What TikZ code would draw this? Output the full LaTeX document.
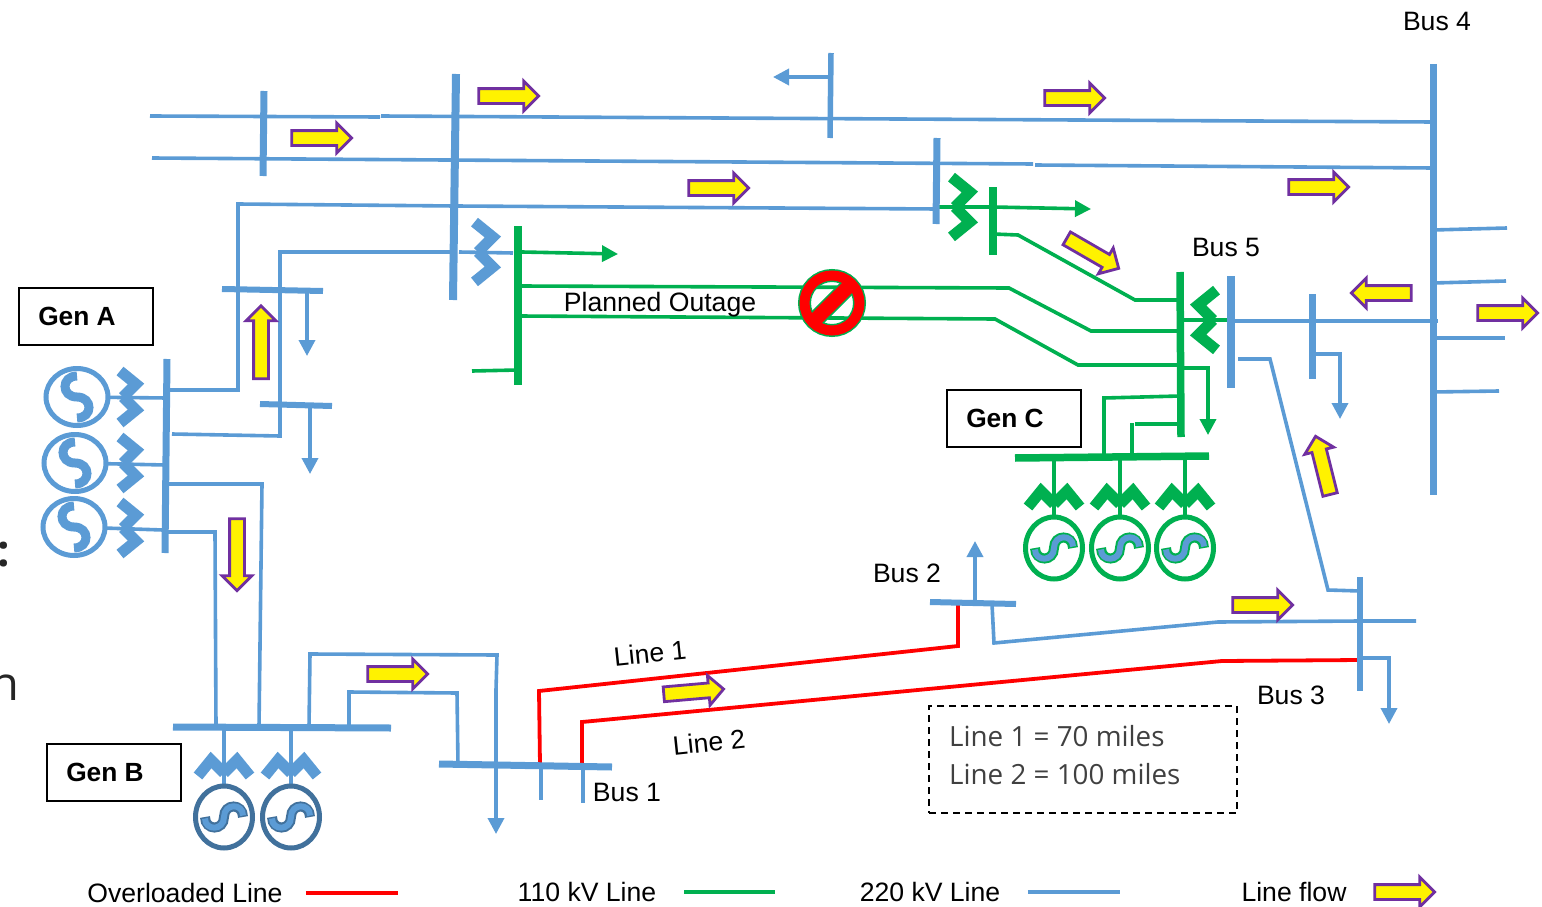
\documentclass[tikz,border=0pt]{standalone}
\usepackage{fontspec}
\setmainfont{Liberation Sans}
\newfontfamily\notefont{Open Sans}
\usepackage{xcolor}
\usetikzlibrary{arrows.meta, shapes.arrows, positioning}
\definecolor{lineblue}{HTML}{5B9BD5}
\definecolor{linegreen}{HTML}{00B050}
\definecolor{ringblue}{HTML}{41719C}
\definecolor{flowpurple}{HTML}{7030A0}
\tikzset{
  xfmr/.pic={
    \draw[pic actions, line width=11pt] (-10,-26) -- (6,-13) -- (-7,0);
    \draw[pic actions, line width=11pt] (-7,0) -- (6,13) -- (-10,26);
  },
  genS/.pic={
    \draw[pic actions, fill=white, line width=5pt] (0,0) ellipse [x radius=28.5, y radius=31];
    \draw[pic actions, line width=9pt] (-21,0) .. controls (-21,16) and (0,16) .. (0,0)
      .. controls (0,-16) and (21,-16) .. (21,0);
  },
  genW/.pic={
    \draw[pic actions, fill=white, line width=5pt] (0,0) ellipse [x radius=28.5, y radius=31];
    \draw[pic actions, line width=10pt] (-19,0) .. controls (-19,14) and (0,14) .. (0,0)
      .. controls (0,-14) and (19,-14) .. (19,0);
    \draw[lineblue, line width=6pt, shorten <=1.5pt, shorten >=1.5pt] (-19,0) .. controls (-19,14) and (0,14) .. (0,0)
      .. controls (0,-14) and (19,-14) .. (19,0);
  }
}

\begin{document}
\begin{tikzpicture}[x=1pt, y=-1pt, >={Triangle[length=16pt, width=16pt]},
    blueline/.style={lineblue, line width=3.6pt},
    greenline/.style={linegreen, line width=3.6pt},
    redline/.style={red, line width=3.8pt},
    busblue/.style={lineblue, line width=7pt},
    busgreen/.style={linegreen, line width=7.5pt},
    flowarrow/.style={single arrow, draw=flowpurple, fill=yellow, line width=2.8pt, inner sep=6pt,
      single arrow head extend=7.5pt, minimum width=28pt, minimum height=60pt},
    genbox/.style={draw, line width=2pt, minimum width=134pt, minimum height=57pt, inner sep=0pt,
      font=\fontsize{26.3}{30}\selectfont\bfseries},
    label/.style={inner sep=0pt, font=\fontsize{26.6}{30}\selectfont}]
  \useasboundingbox (0,0) rectangle (1542,907);
  \clip (0,0) rectangle (1542,907);

  % 1. Connection points on the buses
  \foreach \tapname/\tappos in {
      genA1/{77,397}, genA2/{75,463}, genA3/{74,527},
      genB1/{224,817}, genB2/{291,817},
      genC1/{1054,548}, genC2/{1120,548}, genC3/{1185,548},
      tapAone/{168,390}, tapAtwo/{172,434}, tapAthree/{168,484}, tapAfour/{168,532},
      tapAg1/{167,398}, tapAg2/{165,465}, tapAg3/{163,530},
      tapBone/{216,727}, tapBtwo/{259,727}, tapBthree/{309,727}, tapBfour/{349,727},
      tapBg1/{224,727}, tapBg2/{291,727},
      tapCg1/{1054,458}, tapCg2/{1120,458}, tapCg3/{1185,458},
      tapCone/{1104,458}, tapCtwo/{1132,458},
      tapDone/{1180,396}, tapDtwo/{1135,424}, tapDthree/{1180,424},
      tapEone/{1180,300}, tapEtwo/{1180,331}, tapEthree/{1180,365}, tapEfour/{1181,368},
      tapEfive/{1181,320}, tapEsix/{1230,320},
      tapFone/{993,234}, tapFtwo/{993,207}, tapFthree/{937,207},
      tapGone/{520,286}, tapGtwo/{520,316}, tapGthree/{522,252}, tapGfour/{518,370},
      tapGfive/{513,253}, tapGsix/{459,252},
      busTwoA/{452,252}, busTwoB/{455,206}, busBlue/{938,209},
      busFourA/{1433,122}, busFourB/{1433,168},
      busFourC/{1433,230}, busFourD/{1433,283}, busFourE/{1438,321}, busFourF/{1433,338}, busFourG/{1433,392},
      busFiveA/{1231,321}, busFiveB/{1238,359},
      busSmallA/{1312,354}, busThreeA/{1360,591}, busThreeB/{1360,621}, busThreeC/{1360,658}, busThreeD/{1360,660},
      busOverA/{958,604}, busOverB/{992,604}, busOverC/{975,602},
      busOneA/{540,765}, busOneB/{582,765}, busOneC/{541,768}, busOneD/{583,768}, busOneE/{458,765},
      loadOne/{307,291}, loadTwo/{310,406}, loadTop/{830,77}} {
    \coordinate (\tapname) at (\tappos);
  }

  % 2. 220 kV lines
  \draw[blueline] (150,116) -- (380,117);
  \draw[blueline] (381,116) -- (720,118) -- (busFourA);
  \draw[blueline] (152,158) -- (1033,164);
  \draw[blueline] (1035,165) -- (busFourB);
  \draw[blueline] (tapAone) -- (238,390) -- (238,204) -- (busTwoB) -- (busBlue);
  \draw[blueline] (tapAtwo) -- (280,436) -- (280,252) -- (busTwoA);
  \draw[blueline] (tapGsix) -- (tapGfive);
  \draw[blueline] (tapAthree) -- (262,484) -- (tapBtwo);
  \draw[blueline] (tapAfour) -- (215,532) -- (tapBone);
  \draw[blueline] (tapBthree) -- (310,654) -- (497,655) -- (496,690);
  \draw[blueline, ->] (496,690) -- (496,834);
  \draw[blueline] (tapBfour) -- (349,692) -- (457,693) -- (busOneE);
  \draw[blueline] (busOneC) -- (541,800);
  \draw[blueline] (busOneD) -- (583,803);
  \draw[blueline] (busOverB) -- (994,643) -- (1218,622) -- (busThreeB) -- (1416,621);
  \draw[blueline] (busFiveB) -- (1270,359) -- (1328,590) -- (busThreeA);
  \draw[blueline] (busFiveA) -- (busFourE);
  \draw[blueline] (busFourC) -- (1507,228);
  \draw[blueline] (busFourD) -- (1506,281);
  \draw[blueline] (busFourF) -- (1505,338);
  \draw[blueline] (busFourG) -- (1499,391);
  \draw[blueline, ->] (loadOne) -- (307,356);
  \draw[blueline, ->] (loadTwo) -- (310,474);
  \draw[blueline, ->] (loadTop) -- (773,77);
  \draw[blueline, ->] (busOverC) -- (975,541);
  \draw[blueline, ->] (busSmallA) -- (1340,354) -- (1340,419);
  \draw[blueline, ->] (busThreeC) -- (1389,658) -- (1389,724);
  \foreach \gena/\taga in {genA1/tapAg1, genA2/tapAg2, genA3/tapAg3, genB1/tapBg1, genB2/tapBg2} {
    \draw[blueline] (\gena) -- (\taga);
  }

  % 3. 110 kV lines
  \draw[greenline] (tapGone) -- (1009,288) -- (1091,331) -- (tapEtwo);
  \draw[greenline] (tapGtwo) -- (995,319) -- (1078,365) -- (tapEthree);
  \draw[greenline] (tapFone) -- (1018,235) -- (1135,300) -- (tapEone);
  \draw[greenline, ->] (tapGthree) -- (618,254);
  \draw[greenline] (472,371) -- (tapGfour);
  \draw[greenline] (tapFthree) -- (tapFtwo);
  \draw[greenline, ->] (tapFtwo) -- (1091,209);
  \draw[greenline] (tapEfive) -- (tapEsix);
  \draw[greenline, ->] (tapEfour) -- (1208,368) -- (1208,435);
  \draw[greenline] (tapCone) -- (1104,398) -- (tapDone);
  \draw[greenline] (tapCtwo) -- (1132,423);
  \draw[greenline] (tapDtwo) -- (tapDthree);
  \foreach \gena/\taga in {genC1/tapCg1, genC2/tapCg2, genC3/tapCg3} {
    \draw[greenline] (\gena) -- (\taga);
  }

  % 4. Overloaded lines
  \draw[redline] (busOneA) -- (539,691) -- (958,646) -- (busOverA);
  \draw[redline] (busOneB) -- (582,722) -- (1222,661) -- (busThreeD);

  % 5. Bus bars
  \draw[busblue] (167,359) -- (165,553);
  \draw[busblue, line width=6pt] (222,289) -- (323,291);
  \draw[busblue, line width=6pt] (260,404) -- (332,406);
  \draw[busblue] (264,91) -- (263,176);
  \draw[busblue, line width=8pt] (456,74) -- (453,300);
  \draw[busblue, line width=5.5pt] (831,53) -- (830,138);
  \draw[busblue] (937,138) -- (936,224);
  \draw[busblue] (1433,64) -- (1433,495);
  \draw[busblue, line width=8pt] (1231,276) -- (1231,388);
  \draw[busblue] (1312,294) -- (1312,379);
  \draw[busblue, line width=6pt] (1360,577) -- (1360,691);
  \draw[busblue, line width=6pt] (930,602) -- (1016,604);
  \draw[busblue] (439,764) -- (612,767);
  \draw[busblue] (173,727) -- (391,728);
  \draw[busgreen] (518,226) -- (518,385);
  \draw[busgreen] (993,187) -- (993,255);
  \draw[busgreen] (1180,272) -- (1181,437);
  \draw[busgreen] (1015,458) -- (1209,456);

  % 6. Transformers
  \foreach \y in {397,463,528} {
    \pic[draw=lineblue] at (130,\y) {xfmr};
  }
  \foreach \x in {224,291} {
    \pic[draw=lineblue, rotate=90] at (\x,766) {xfmr};
  }
  \foreach \x in {1054,1120,1185} {
    \pic[draw=linegreen, rotate=90] at (\x,497) {xfmr};
  }
  \pic[draw=lineblue, scale=1.15] at (486,252) {xfmr};
  \pic[draw=linegreen, scale=1.15] at (963,207) {xfmr};
  \pic[draw=linegreen, scale=1.15, rotate=180] at (1205,320) {xfmr};

  % 7. Generators
  \foreach \gena in {genA1,genA2,genA3} {
    \pic[draw=lineblue, rotate=90] at (\gena) {genS};
  }
  \foreach \gena in {genB1,genB2} {
    \pic[draw=ringblue] at (\gena) {genW};
  }
  \foreach \gena in {genC1,genC2,genC3} {
    \pic[draw=linegreen] at (\gena) {genW};
  }

  % 8. Planned outage sign
  \begin{scope}[shift={(832,303)}, rotate=45]
    \draw[linegreen, line width=13pt] (0,0) circle [radius=27.5];
    \draw[linegreen, line width=17pt] (-27,0) -- (27,0);
    \draw[red, line width=10pt] (0,0) circle [radius=27.5];
    \draw[red, line width=14pt] (-27,0) -- (27,0);
  \end{scope}

  % 9. Line flow arrows
  \node[flowarrow] (flowA) at (318,138) {};
  \node[flowarrow] (flowB) at (505,96) {};
  \node[flowarrow] (flowC) at (1071,98) {};
  \node[flowarrow] (flowD) at (715,188) {};
  \node[flowarrow] (flowE) at (1315,187) {};
  \node[flowarrow, rotate=-30] (flowF) at (1089.5,251.5) {};
  \node[flowarrow, rotate=180] (flowG) at (1385,293) {};
  \node[flowarrow] (flowH) at (1504,313) {};
  \node[flowarrow, rotate=90, minimum height=73pt] (flowI) at (261,346) {};
  \node[flowarrow, rotate=-90, minimum height=72pt] (flowJ) at (237,551) {};
  \node[flowarrow, rotate=104] (flowK) at (1323.7,469) {};
  \node[flowarrow] (flowL) at (394,674) {};
  \node[flowarrow, rotate=5] (flowM) at (690,692) {};
  \node[flowarrow] (flowN) at (1259,605) {};
  \node[flowarrow] (flowKey) at (1401,892) {};

  % 10. Labels
  \node[genbox] (genAbox) at (86,316) {\raisebox{-2pt}{Gen A}\hspace*{18pt}};
  \node[genbox] (genBbox) at (114,772) {\raisebox{-2pt}{Gen B}\hspace*{18pt}};
  \node[genbox] (genCbox) at (1014,418) {\raisebox{-2pt}{Gen C}\hspace*{18pt}};
  \node[label] (busOne) at (627,792.5) {Bus 1};
  \node[label] (busTwo) at (907,573.5) {Bus 2};
  \node[label] (busThree) at (1291,695.5) {Bus 3};
  \node[label] (busFour) at (1437,21.5) {Bus 4};
  \node[label] (busFive) at (1226,247.5) {Bus 5};
  \node[label, rotate=6] (lineOne) at (650,653) {Line 1};
  \node[label, rotate=6] (lineTwo) at (709,742) {Line 2};
  \node[label] (outage) at (660,305) {Planned Outage};
  \node[draw, dash pattern=on 7pt off 5pt, line width=1.5pt, minimum width=308pt, minimum height=107pt] (noteBox) at (1083,759.5) {};
  \node[inner sep=0pt, align=left, text=black!75, font=\notefont\fontsize{27.8}{38}\selectfont, anchor=west] (noteText) at (949,755) {Line 1 = 70 miles\\Line 2 = 100 miles};

  % 11. Legend
  \node[label] (keyRed) at (185,893) {Overloaded Line};
  \node[label] (keyGreen) at (587,892) {110 kV Line};
  \node[label] (keyBlue) at (930,892) {220 kV Line};
  \node[label] (keyFlow) at (1294,892) {Line flow};
  \coordinate[right=23pt of keyRed.east] (keyRedA);
  \coordinate[right=92pt of keyRedA] (keyRedB);
  \coordinate[right=28pt of keyGreen.east] (keyGreenA);
  \coordinate[right=91pt of keyGreenA] (keyGreenB);
  \coordinate[right=27.5pt of keyBlue.east] (keyBlueA);
  \coordinate[right=92pt of keyBlueA] (keyBlueB);
  \draw[redline] (keyRedA) -- (keyRedB);
  \draw[greenline] (keyGreenA) -- (keyGreenB);
  \draw[blueline] (keyBlueA) -- (keyBlueB);

  % 12. Cut off text at the left edge
  \node[inner sep=0pt, anchor=base, text=black!85, font=\notefont\bfseries\fontsize{44}{50}\selectfont] (cutColon) at (4,566) {:};
  \node[inner sep=0pt, anchor=base, text=black!85, font=\notefont\fontsize{47}{50}\selectfont] (cutLetter) at (4.5,700) {n};
\end{tikzpicture}
\end{document}
